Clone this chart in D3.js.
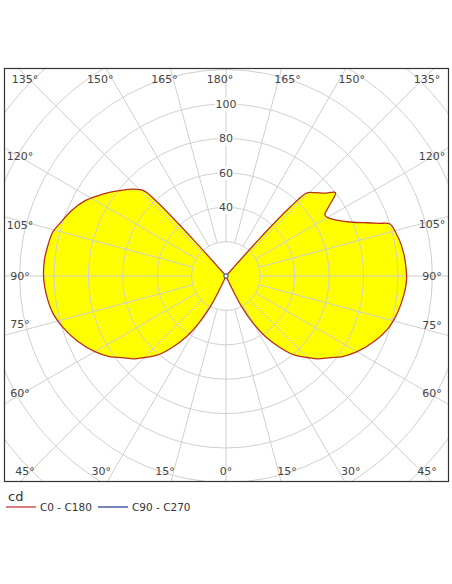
<!DOCTYPE html>
<html><head><meta charset="utf-8">
<script src="https://cdn.jsdelivr.net/npm/d3@7"></script>
<style>body{margin:0;background:#fff}text{font-family:"DejaVu Sans",sans-serif}</style>
</head><body><svg id="c" width="452" height="584"></svg>
<script>
// C0 half (left) – gamma in degrees (0 = down, 180 = up), intensity in cd
const gammaC0 = [0,20,25,27,30,33,37,41,45,48,52,55,60,66,72,78,84,89,95,100,104,108,113,118,122,126,129,133,136,137,138,140,180];
const valC0   = [0,0,5,20,32,42,52,61,67,72,77,82,88,94,99,103,105,106,106,105,104,101,97.5,93,88,83,79,74,69,60,30,0,0];
// C180 half (right)
const gammaC180 = [0,20,25,27,30,33,37,41,45,48,52,55,60,66,72,78,84,89,95,100,104,107.6,109,110.6,113,116.8,119,121.6,124,127.3,130,133,135.7,137,138,140,180];
const valC180   = [0,0,5,20,32,42,52,61,67,72,77,82,88,94,99,102,104,105,104.5,103.5,102,100,94,88,80,72,69,67.5,72,80,75,71,67.5,55,30,0,0];
const ringValues = [20,40,60,80,100,120,140,160,180];
const ringLabels = [40,60,80,100];
const angleTicks = [0,15,30,45,60,75,90,105,120,135,150,165,180];
const legendItems = [{name:"C0 - C180",color:"#c0282d"},{name:"C90 - C270",color:"#1f2f8f"}];

const svg = d3.select("#c");
const fx0=4.5, fy0=68.5, fx1=448.5, fy1=481.5;
const cx=226, cy=276;
const r = d3.scaleLinear().domain([0,100]).range([0,172]);
const rad = d=>d*Math.PI/180;

svg.append("defs").append("clipPath").attr("id","clip").append("rect")
  .attr("x",fx0).attr("y",fy0).attr("width",fx1-fx0).attr("height",fy1-fy0);
const g = svg.append("g").attr("clip-path","url(#clip)");
const lineL = d3.lineRadial().angle(d=>Math.PI+rad(d[0])).radius(d=>r(d[1])).curve(d3.curveCatmullRomClosed.alpha(0.5));
const lineR = d3.lineRadial().angle(d=>Math.PI-rad(d[0])).radius(d=>r(d[1])).curve(d3.curveCatmullRomClosed.alpha(0.5));
const pL = lineL(gammaC0.map((a,i)=>[a,valC0[i]]));
const pR = lineR(gammaC180.map((a,i)=>[a,valC180[i]]));
const fillG = g.append("g").attr("transform",`translate(${cx},${cy})`);
fillG.append("path").attr("d",pL).attr("fill","#ffff00");
fillG.append("path").attr("d",pR).attr("fill","#ffff00");

const grid="#cfcfcf";
ringValues.forEach(v=>g.append("circle").attr("cx",cx).attr("cy",cy).attr("r",r(v))
  .attr("fill","none").attr("stroke",grid).attr("stroke-width",1));
for(let a=0;a<360;a+=15){
  const t=rad(a);
  g.append("line").attr("x1",cx+r(20)*Math.sin(t)).attr("y1",cy+r(20)*Math.cos(t))
   .attr("x2",cx+r(200)*Math.sin(t)).attr("y2",cy+r(200)*Math.cos(t))
   .attr("stroke",grid).attr("stroke-width",1);
}
const gl = g.append("g").attr("transform",`translate(${cx},${cy})`);
gl.append("path").attr("d",pL).attr("fill","none").attr("stroke","#b5301a").attr("stroke-width",1.3);
gl.append("path").attr("d",pR).attr("fill","none").attr("stroke","#b5301a").attr("stroke-width",1.3);
gl.append("circle").attr("r",2.2).attr("fill","#fff").attr("stroke","#1f2f8f").attr("stroke-width",1);

// ring labels
ringLabels.forEach(v=>{
  const t=svg.append("text").attr("x",cx).attr("y",cy-r(v)+4).attr("text-anchor","middle")
    .attr("font-size",11).attr("fill","#444").text(v);
  const b=t.node().getBBox();
  svg.insert("rect","text:last-of-type").attr("x",b.x-1).attr("y",b.y).attr("width",b.width+2).attr("height",b.height).attr("fill","#fff");
  t.raise();
});

// angle labels
const lab = svg.append("g").attr("font-size",11).attr("fill","#444").attr("text-anchor","middle");
[-1,1].forEach(s=>{
  angleTicks.forEach(a=>{
    if((a===0||a===180)&&s===1) return;
    const t=rad(a), dx=s*Math.sin(t), dy=Math.cos(t);
    let x,y;
    const tx = dx!==0 ? ((dx>0?fx1:fx0)-cx)/dx : Infinity;
    const ty = dy!==0 ? ((dy>0?fy1:fy0)-cy)/dy : Infinity;
    if(Math.abs(a-45)<1||Math.abs(a-135)<1){
      x = s<0?25:427; y = a<90?475:83;
    } else if(ty<tx){
      x = cx+ty*dx + (dx===0?0:(dx>0?6:-6)); y = dy>0?475:83;
    } else {
      y = cy+tx*dy + (Math.abs(dy)<1e-6?0:(dy>0?-11:8)) + 4;
      x = s<0?20:432;
    }
    lab.append("text").attr("x",x).attr("y",y).text(a+"°");
  });
});

svg.append("rect").attr("x",fx0).attr("y",fy0).attr("width",fx1-fx0).attr("height",fy1-fy0)
  .attr("fill","none").attr("stroke","#333").attr("stroke-width",1.2);

svg.append("text").attr("x",8).attr("y",501).attr("font-size",13).attr("fill","#333").text("cd");
legendItems.forEach((d,i)=>{
  const x0 = 6 + i*92;
  svg.append("line").attr("x1",x0).attr("x2",x0+30).attr("y1",507).attr("y2",507).attr("stroke",d.color).attr("stroke-width",1.2);
  svg.append("text").attr("x",x0+34).attr("y",511).attr("font-size",10.5).attr("fill","#333").text(d.name);
});
</script></body></html>
